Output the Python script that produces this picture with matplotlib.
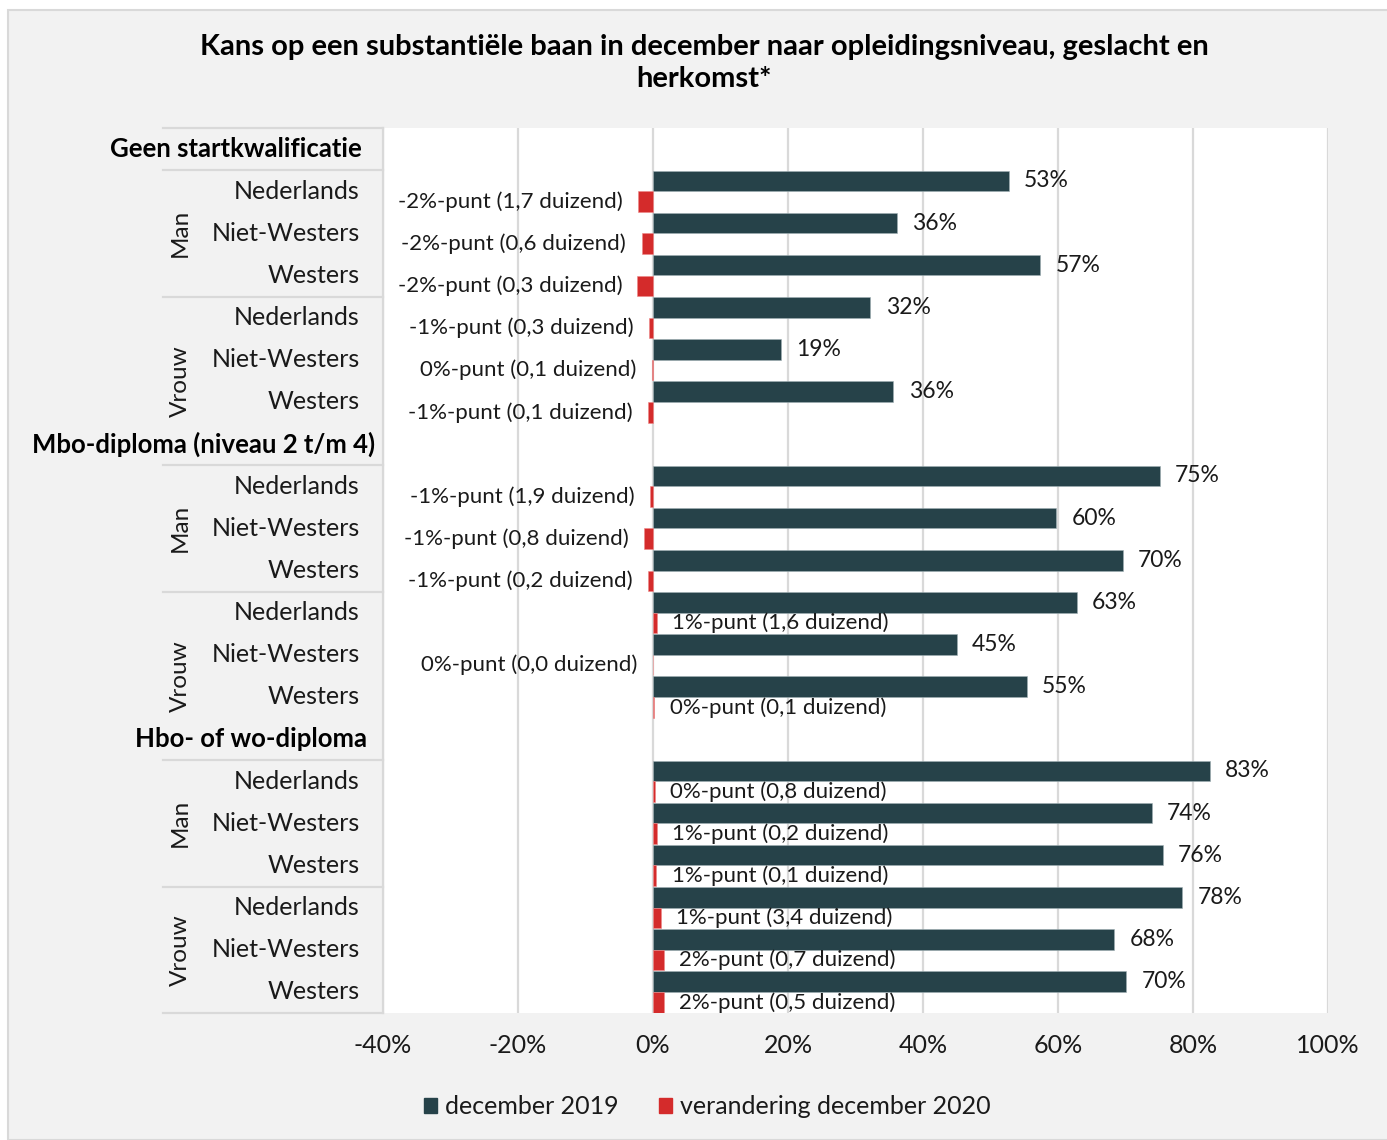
import matplotlib
matplotlib.use("Agg")
import matplotlib.pyplot as plt
from matplotlib.patches import Rectangle
from matplotlib.lines import Line2D
from matplotlib import transforms

# ---------------- data ----------------
levels = ["Geen startkwalificatie", "Mbo-diploma (niveau 2 t/m 4)", "Hbo- of wo-diploma"]
genders = ["Man", "Vrouw"]
origins = ["Nederlands", "Niet-Westers", "Westers"]

dec2019 = [52.7, 36.1, 57.4, 32.2, 18.9, 35.6,
           75.1, 59.7, 69.6, 62.8, 45.0, 55.4,
           82.5, 73.9, 75.5, 78.4, 68.3, 70.1]
dec2019_labels = ["53%", "36%", "57%", "32%", "19%", "36%",
                  "75%", "60%", "70%", "63%", "45%", "55%",
                  "83%", "74%", "76%", "78%", "68%", "70%"]
change = [-2.2, -1.7, -2.3, -0.6, -0.2, -0.7,
          -0.5, -1.3, -0.8, 0.6, -0.05, 0.2,
          0.3, 0.6, 0.5, 1.2, 1.6, 1.6]
change_labels = ["-2%-punt (1,7 duizend)", "-2%-punt (0,6 duizend)", "-2%-punt (0,3 duizend)",
                 "-1%-punt (0,3 duizend)", "0%-punt (0,1 duizend)", "-1%-punt (0,1 duizend)",
                 "-1%-punt (1,9 duizend)", "-1%-punt (0,8 duizend)", "-1%-punt (0,2 duizend)",
                 "1%-punt (1,6 duizend)", "0%-punt (0,0 duizend)", "0%-punt (0,1 duizend)",
                 "0%-punt (0,8 duizend)", "1%-punt (0,2 duizend)", "1%-punt (0,1 duizend)",
                 "1%-punt (3,4 duizend)", "2%-punt (0,7 duizend)", "2%-punt (0,5 duizend)"]
xticks = [-40, -20, 0, 20, 40, 60, 80, 100]
series_names = ["december 2019", "verandering december 2020"]
title = "Kans op een substantiële baan in december naar opleidingsniveau, geslacht en\nherkomst*"

# ---------------- style ----------------
W, H = 1387, 1140
DARK = "#264249"
RED = "#D42B2B"
GRID = "#D9D9D9"
BG = "#F2F2F2"
TXT = "#1A1A1A"
FONT = ["Lato", "DejaVu Sans"]
plt.rcParams["font.family"] = FONT

def fx(px):
    return px / W

def fy(py):
    return 1 - py / H

fig = plt.figure(figsize=(W / 100, H / 100), dpi=100, facecolor="white")
fig.patches.append(Rectangle((fx(8), 0), 1 - fx(8) + 0.01, fy(10), transform=fig.transFigure,
                             facecolor=BG, edgecolor=GRID, linewidth=1.5, zorder=-10))

ax = fig.add_axes([fx(383), fy(1013), fx(1328) - fx(383), fy(128) - fy(1013)])
ax.set_facecolor("white")

# row layout: header row + 3 Man rows + 3 Vrouw rows per level
rows = []
for k in range(len(levels)):
    for g in range(len(genders)):
        for o in range(len(origins)):
            rows.append(7 * k + 1 + 3 * g + o)

bh = 0.49
for i, r in enumerate(rows):
    ax.barh(r - bh / 2, dec2019[i], height=bh, color=DARK, edgecolor="#9fb0b4", linewidth=0.4, zorder=3)
    ax.barh(r + bh / 2, change[i], height=bh, color=RED, edgecolor="#e88", linewidth=0.4, zorder=3)
    ax.annotate(dec2019_labels[i], (dec2019[i], r - bh / 2), xytext=(11, 0), textcoords="offset points",
                ha="left", va="center", fontsize=16.5, color=TXT, zorder=4)
    if change[i] < 0:
        ax.annotate(change_labels[i], (change[i], r + bh / 2), xytext=(-11, 0), textcoords="offset points",
                    ha="right", va="center", fontsize=16, color=TXT, zorder=4)
    else:
        ax.annotate(change_labels[i], (change[i], r + bh / 2), xytext=(11, 0), textcoords="offset points",
                    ha="left", va="center", fontsize=16, color=TXT, zorder=4)

ax.set_xlim(xticks[0], xticks[-1])
ax.set_ylim(20.5, -0.5)
ax.set_xticks(xticks)
ax.set_xticklabels([f"{t}%" for t in xticks], fontsize=18, color=TXT)
ax.set_yticks([])
ax.tick_params(axis="x", length=0, pad=15)
ax.grid(axis="x", color=GRID, linewidth=1.6, zorder=0)
ax.set_axisbelow(True)
for s in ax.spines.values():
    s.set_visible(False)

# category axis (multi-level)
tr = transforms.blended_transform_factory(fig.transFigure, ax.transData)
for yb in [-0.5, 0.5, 3.5, 7.5, 10.5, 14.5, 17.5, 20.5]:
    fig.add_artist(Line2D([fx(163), fx(383)], [yb, yb], transform=tr, color=GRID, linewidth=1.6))
fig.add_artist(Line2D([fx(383), fx(383)], [-0.5, 20.5], transform=tr, color=GRID, linewidth=1.6))

header_right = [362, 375, 367]
vrouw_center = [5.5, 12.5, 19.0]
for k, lev in enumerate(levels):
    fig.text(fx(header_right[k]), 7 * k, lev, transform=tr, ha="right", va="center",
             fontsize=18.5, fontweight="bold", color="black")
    fig.text(fx(180), 7 * k + 2, genders[0], transform=tr, ha="center", va="center",
             rotation=90, fontsize=17.5, color=TXT)
    fig.text(fx(180), vrouw_center[k], genders[1], transform=tr, ha="center", va="center",
             rotation=90, fontsize=17.5, color=TXT)
    for g in range(2):
        for o, name in enumerate(origins):
            fig.text(fx(360), 7 * k + 1 + 3 * g + o, name, transform=tr, ha="right", va="center",
                     fontsize=18, color=TXT)

# title
fig.text(fx(704), fy(63), title, ha="center", va="center", fontsize=21, fontweight="bold",
         color="black", linespacing=1.25)

# legend
handles = [Rectangle((0, 0), 1, 1, color=DARK), Rectangle((0, 0), 1, 1, color=RED)]
fig.legend(handles, series_names, loc="center", bbox_to_anchor=(fx(707), fy(1107)), ncol=2,
           frameon=False, fontsize=18, handlelength=0.55, handleheight=0.55, handletextpad=0.3,
           columnspacing=1.6, labelcolor=TXT)

fig.savefig("out.png", dpi=100, facecolor="white")
